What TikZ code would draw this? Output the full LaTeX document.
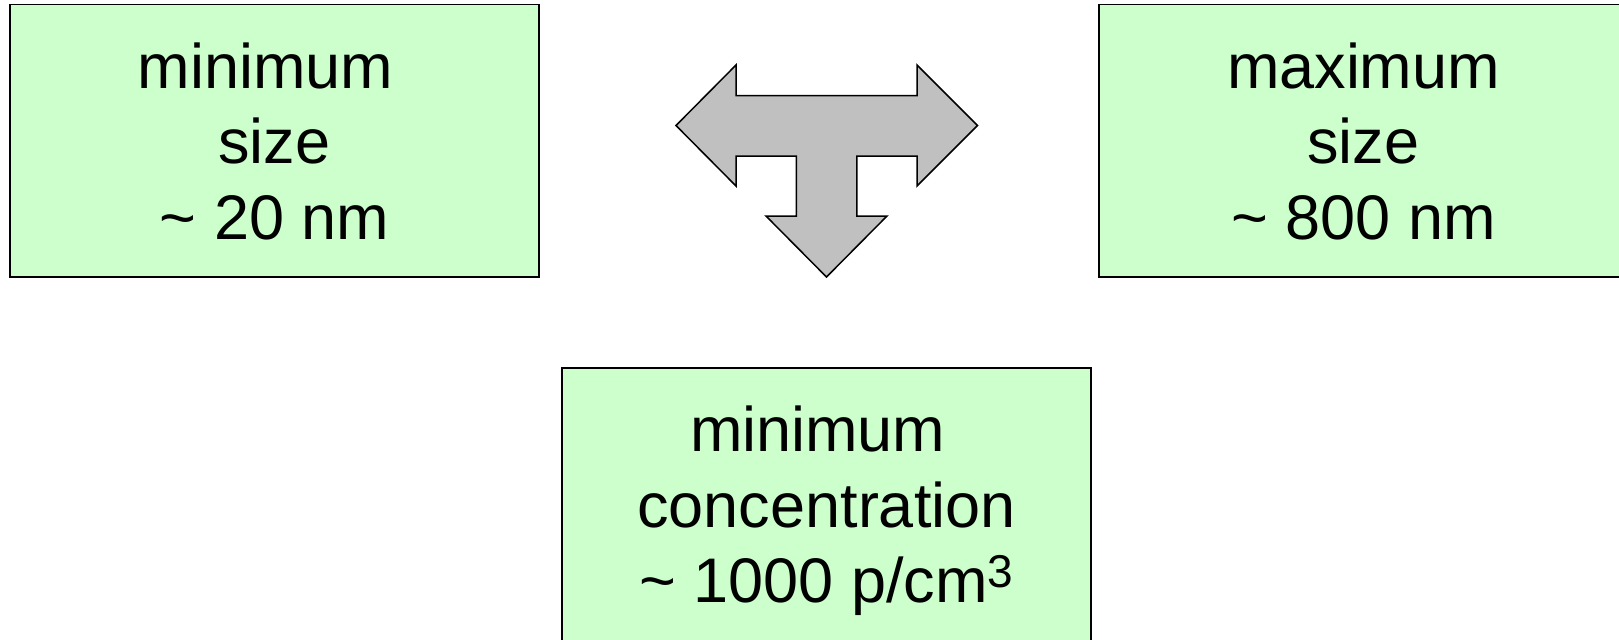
\documentclass[tikz,border=0pt]{standalone}
\usepackage{fontspec}
\setmainfont{Liberation Sans}
\usepackage{tikz}
\usetikzlibrary{positioning}

\definecolor{boxgreen}{HTML}{CCFFCC}
\definecolor{forkgray}{HTML}{C0C0C0}
\newcommand{\supthree}{\raisebox{7.5pt}{\fontsize{23pt}{23pt}\selectfont 3}}

\begin{document}
\begin{tikzpicture}[x=0.5pt,y=-0.5pt,on grid,
	limit/.style={draw=black,line width=0.75pt,fill=boxgreen,
		minimum width=264.5pt,minimum height=136.25pt,inner sep=0pt,
		align=center,text depth=0pt,
		font=\fontsize{31.5pt}{37.75pt}\selectfont},
	fork/.style={draw=black,line width=0.75pt,fill=forkgray,line join=miter}]
		\useasboundingbox (0,0) rectangle (1619,639);
		\node[limit] (MinSize) at (274.5,140.75) {minimum\hphantom{\ }\\ size\\ \textasciitilde{} 20 nm};
		\node[limit] (MaxSize) [right=544.5pt of MinSize] {maximum\\ size\\ \textasciitilde{} 800 nm};
		\node[limit] (MinConc) [below right=181.75pt and 276pt of MinSize] {minimum\hphantom{\ }\\ concentration\\ \textasciitilde{} 1000 p/cm\supthree};
		
		% three-way arrow between the boxes
		\coordinate (Fork) at (826.5,125.5);
		\draw[fork,shift={(Fork)}] (-150.5,0) -- (-90.5,-60.5) -- (-90.5,-30) -- (90.5,-30)
			-- (90.5,-60.5) -- (151,0) -- (90.5,60.5) -- (90.5,30.5) -- (30.25,30.5)
			-- (30.25,90.5) -- (60.5,90.5) -- (0,151.5) -- (-60.5,90.5) -- (-30.25,90.5)
			-- (-30.25,30.5) -- (-90.5,30.5) -- (-90.5,60.5) -- cycle;
\end{tikzpicture}
\end{document}
